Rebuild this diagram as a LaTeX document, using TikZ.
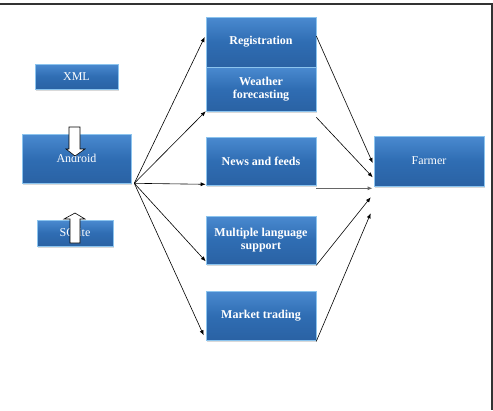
\documentclass[tikz,border=0pt]{standalone}
\usepackage{fontspec}
\setmainfont{Liberation Serif}
\usetikzlibrary{arrows.meta,calc,shadows}
\definecolor{boxtop}{HTML}{4A8AD0}
\definecolor{boxmid}{HTML}{2F6DB3}
\definecolor{boxbot}{HTML}{2A62A4}
\definecolor{boxedge}{HTML}{8CC4EE}
\tikzset{
  box/.style={draw=boxedge, line width=0.6pt, top color=boxtop, bottom color=boxbot, middle color=boxmid,
    text=white, font=\fontsize{12}{13}\selectfont, align=center, inner sep=2pt,
    drop shadow={shadow xshift=1pt, shadow yshift=-1.5pt, fill=black!25, opacity=0.6}},
  bbox/.style={box, font=\fontsize{12}{13}\selectfont\bfseries},
  conn/.style={line width=0.6pt, -{Latex[length=5pt,width=4pt]}},
  gconn/.style={line width=1.3pt, draw=black!60, -{Latex[length=5pt,width=4pt]}, black!60},
  blockarrow/.style={draw=black, fill=white, line width=0.6pt}
}
\begin{document}
\begin{tikzpicture}[x=1pt,y=-1pt]
\useasboundingbox (0,0) rectangle (493,410);
% frame
\draw[line width=1.5pt, black!80] (0,4) -- (492,4) -- (492,410);

% left side
\node[box, minimum width=83pt, minimum height=25pt] (xml) at (76.5,76.5) {XML};
\node[box, minimum width=109pt, minimum height=49pt] (android) at (76.5,158.5) {Android};
\node[box, minimum width=76pt, minimum height=26pt] (sqlite) at (75,233) {SQlite};

% middle
\node[bbox, minimum width=110pt, minimum height=50pt] (reg) at (261,42) {Registration};
\node[bbox, minimum width=110pt, minimum height=44pt] (weather) at (261,89) {Weather\\forecasting};
\node[bbox, minimum width=110pt, minimum height=48pt] (news) at (261,161) {News and feeds};
\node[bbox, minimum width=110pt, minimum height=48pt] (multi) at (261,240) {Multiple language\\support};
\node[bbox, minimum width=110pt, minimum height=49pt] (market) at (261,315.5) {Market trading};

% right
\node[box, minimum width=110pt, minimum height=50pt] (farmer) at (429,161) {Farmer};

% block arrows
\draw[blockarrow] (69,127) -- (80,127) -- (80,149) -- (85,149) -- (75,156) -- (66,149) -- (69,149) -- cycle;
\draw[blockarrow] (70,243) -- (80,243) -- (80,219) -- (85,219) -- (75,213) -- (64,219) -- (70,219) -- cycle;

% connectors from Android
\coordinate (src) at ([xshift=3pt]android.south east);
\draw[conn] (src) -- ([xshift=-1pt,yshift=5pt]reg.west);
\draw[conn] (src) -- (weather.south west);
\draw[conn] (src) -- ([yshift=1pt]news.south west);
\draw[conn] (src) -- ([yshift=3pt]multi.south west);
\draw[conn] (src) -- ([xshift=-2pt,yshift=5pt]market.south west);

% connectors to Farmer
\coordinate (t1) at ([xshift=-1pt,yshift=-2pt]farmer.west);
\coordinate (t2) at ([xshift=-1pt,yshift=9pt]farmer.south west);
\coordinate (t3) at ([xshift=-1pt,yshift=-2pt]farmer.south west);
\coordinate (t4) at ([xshift=-3pt,yshift=-11pt]farmer.south west);
\coordinate (t5) at ([xshift=-3pt,yshift=-27pt]farmer.south west);
\draw[conn] ([yshift=6pt]reg.east) -- (t1);
\draw[conn] ([yshift=-6pt]weather.south east) -- (t2);
\draw[gconn] ([yshift=-3pt]news.south east) -- (t3);
\draw[conn] ([yshift=-1pt]multi.south east) -- (t4);
\draw[conn] ([yshift=-1pt]market.south east) -- (t5);
\end{tikzpicture}
\end{document}
